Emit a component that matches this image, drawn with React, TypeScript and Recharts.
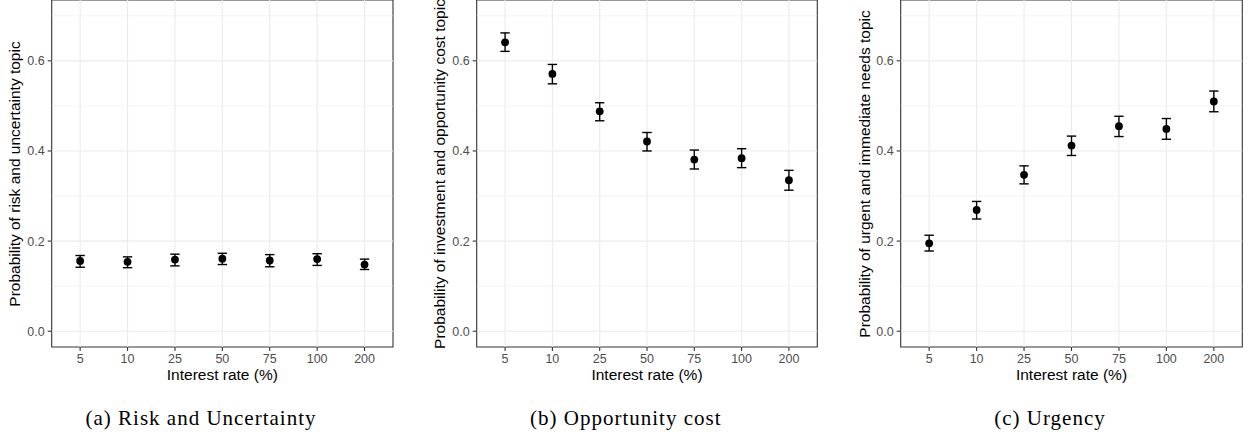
import { ScatterChart, Scatter, XAxis, YAxis, ErrorBar, ReferenceLine, ReferenceArea } from 'recharts'

const RATES = ['5', '10', '25', '50', '75', '100', '200']

const RISK = [0.156, 0.154, 0.159, 0.161, 0.157, 0.16, 0.148]
const RISK_LO = [0.142, 0.141, 0.145, 0.148, 0.143, 0.146, 0.137]
const RISK_HI = [0.168, 0.165, 0.171, 0.173, 0.17, 0.172, 0.16]

const OPP = [0.641, 0.571, 0.488, 0.421, 0.381, 0.384, 0.335]
const OPP_LO = [0.621, 0.549, 0.467, 0.4, 0.36, 0.363, 0.313]
const OPP_HI = [0.662, 0.592, 0.507, 0.441, 0.402, 0.405, 0.357]

const URG = [0.195, 0.269, 0.347, 0.412, 0.455, 0.449, 0.51]
const URG_LO = [0.178, 0.249, 0.327, 0.39, 0.432, 0.426, 0.487]
const URG_HI = [0.213, 0.288, 0.367, 0.433, 0.477, 0.472, 0.533]

const Y_TICKS = [0, 0.2, 0.4, 0.6]
const Y_MINOR = [0.1, 0.3, 0.5, 0.7]
const Y_DOMAIN: [number, number] = [-0.035, 0.735]
const X_DOMAIN: [number, number] = [-0.6, 6.6]

const SANS = '"Liberation Sans", Arial, Helvetica, sans-serif'
const SERIF = '"Liberation Serif", "Times New Roman", serif'

interface PanelProps {
  left: number
  width: number
  yAxisWidth: number
  marginRight: number
  values: number[]
  lo: number[]
  hi: number[]
  yTitle: string
  yTitleX: number
  caption: string
  captionX: number
}

const CHART_H = 403
const XAXIS_H = 56

function Panel({ left, width, yAxisWidth, marginRight, values, lo, hi, yTitle, yTitleX, caption, captionX }: PanelProps) {
  const data = values.map((y, i) => ({ i, y, err: [y - lo[i], hi[i] - y] }))
  const plotLeft = left + yAxisWidth
  const plotRight = left + width - marginRight
  const plotBottom = CHART_H - XAXIS_H
  const tick = { fontFamily: SANS, fontSize: 12.5, fill: '#4d4d4d' }
  return (
    <>
      <div style={{ position: 'absolute', left, top: 0 }}>
        <ScatterChart width={width} height={CHART_H} margin={{ top: 0, right: marginRight, bottom: 0, left: 0 }}>
          <XAxis
            type="number"
            dataKey="i"
            domain={X_DOMAIN}
            ticks={RATES.map((_, i) => i)}
            tickFormatter={(v: number) => RATES[v]}
            allowDataOverflow
            axisLine={false}
            tickLine={{ stroke: '#333333', strokeWidth: 1.1 }}
            tickSize={4}
            tickMargin={3.5}
            height={XAXIS_H}
            tick={tick}
            interval={0}
          />
          <YAxis
            type="number"
            dataKey="y"
            domain={Y_DOMAIN}
            ticks={Y_TICKS}
            tickFormatter={(v: number) => v.toFixed(1)}
            allowDataOverflow
            axisLine={false}
            tickLine={{ stroke: '#333333', strokeWidth: 1.1 }}
            tickSize={4}
            tickMargin={3}
            width={yAxisWidth}
            tick={tick}
            interval={0}
          />
          {Y_MINOR.map((v) => (
            <ReferenceLine key={'m' + v} y={v} stroke="#ebebeb" strokeWidth={0.6} />
          ))}
          {Y_TICKS.map((v) => (
            <ReferenceLine key={'y' + v} y={v} stroke="#ebebeb" strokeWidth={1.1} />
          ))}
          {RATES.map((_, i) => (
            <ReferenceLine key={'x' + i} x={i} stroke="#ebebeb" strokeWidth={1.1} />
          ))}
          <Scatter
            data={data}
            isAnimationActive={false}
            shape={(p: any) => <circle cx={p.cx} cy={p.cy} r={3.9} fill="#000" />}
          >
            <ErrorBar dataKey="err" direction="y" width={4.7} stroke="#000" strokeWidth={1.4} />
          </Scatter>
          <ReferenceArea
            x1={X_DOMAIN[0]}
            x2={X_DOMAIN[1]}
            y1={Y_DOMAIN[0]}
            y2={Y_DOMAIN[1]}
            fill="none"
            fillOpacity={0}
            stroke="#333333"
            strokeWidth={1.1}
            ifOverflow="visible"
          />
        </ScatterChart>
      </div>
      <div
        style={{
          position: 'absolute',
          left: yTitleX,
          top: plotBottom / 2,
          transform: 'translate(-50%, -50%) rotate(-90deg)',
          whiteSpace: 'nowrap',
          fontFamily: SANS,
          fontSize: 15.5,
          lineHeight: 1,
          color: '#000',
        }}
      >
        {yTitle}
      </div>
      <div
        style={{
          position: 'absolute',
          left: (plotLeft + plotRight) / 2,
          top: 375,
          transform: 'translate(-50%, -50%)',
          whiteSpace: 'nowrap',
          fontFamily: SANS,
          fontSize: 15.5,
          lineHeight: 1,
          color: '#000',
        }}
      >
        Interest rate (%)
      </div>
      <div
        style={{
          position: 'absolute',
          left: captionX,
          top: 418,
          transform: 'translate(-50%, -50%)',
          whiteSpace: 'nowrap',
          fontFamily: SERIF,
          fontSize: 21,
          letterSpacing: 1,
          lineHeight: 1,
          color: '#000',
        }}
      >
        {caption}
      </div>
    </>
  )
}

export default function App() {
  return (
    <div style={{ position: 'absolute', left: 0, top: 0, width: 1248, height: 436, background: '#fff', overflow: 'hidden' }}>
      <Panel
        left={0}
        width={410}
        yAxisWidth={51.7}
        marginRight={17}
        values={RISK}
        lo={RISK_LO}
        hi={RISK_HI}
        yTitle="Probability of risk and uncertainty topic"
        yTitleX={15.3}
        caption="(a) Risk and Uncertainty"
        captionX={201}
      />
      <Panel
        left={420}
        width={410}
        yAxisWidth={56.7}
        marginRight={12.7}
        values={OPP}
        lo={OPP_LO}
        hi={OPP_HI}
        yTitle="Probability of investment and opportunity cost topic"
        yTitleX={439.5}
        caption="(b) Opportunity cost"
        captionX={625.8}
      />
      <Panel
        left={845}
        width={403}
        yAxisWidth={55.7}
        marginRight={5.7}
        values={URG}
        lo={URG_LO}
        hi={URG_HI}
        yTitle="Probability of urgent and immediate needs topic"
        yTitleX={864.5}
        caption="(c) Urgency"
        captionX={1050}
      />
    </div>
  )
}
